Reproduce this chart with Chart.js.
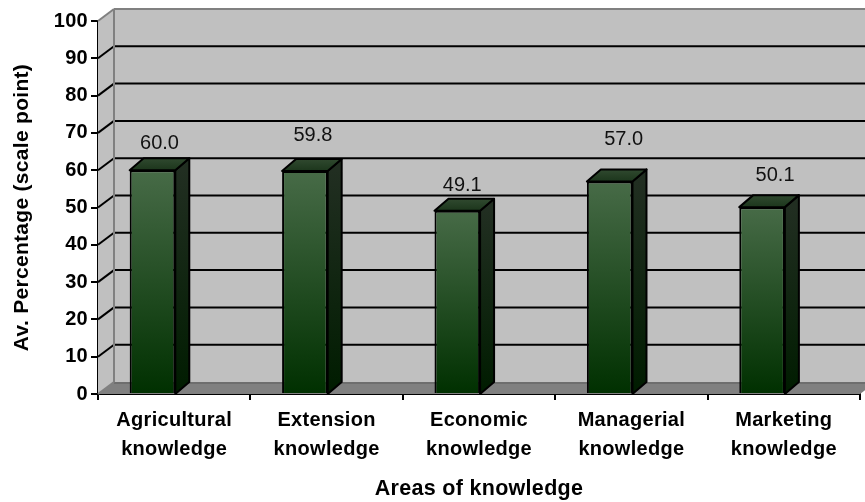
<!DOCTYPE html>
<html>
<head>
<meta charset="utf-8">
<script src="https://cdn.jsdelivr.net/npm/chart.js@4/dist/chart.umd.js"></script>
<style>
  html, body { margin: 0; padding: 0; background: #fff; }
  #wrap { width: 865px; height: 502px; }
</style>
</head>
<body>
<div id="wrap"><canvas id="chart" width="865" height="502"></canvas></div>
<script>
const categories = [
  ["Agricultural", "knowledge"],
  ["Extension", "knowledge"],
  ["Economic", "knowledge"],
  ["Managerial", "knowledge"],
  ["Marketing", "knowledge"],
];
const values = [60.0, 59.8, 49.1, 57.0, 50.1];
const valueLabels = ["60.0", "59.8", "49.1", "57.0", "50.1"];
const emptySlot = [null, null, null, null, null];

// hand placed in the original, so each label gets its own nudge (px from bar top)
const labelNudgeX = [7, 8, 5, 14, 13];
const labelNudgeY = [-27, -35, -25, -42, -32];

const FONT = '"Liberation Sans", Arial, sans-serif';
const DEPTH_X = 14;
const DEPTH_Y = 12;
const WALL_X = 16;
const WALL_Y = 12;

function line(ctx, x1, y1, x2, y2, color, width) {
  ctx.strokeStyle = color;
  ctx.lineWidth = width;
  ctx.beginPath();
  ctx.moveTo(x1, y1);
  ctx.lineTo(x2, y2);
  ctx.stroke();
}

function poly(ctx, pts, fill, stroke, width) {
  ctx.beginPath();
  pts.forEach((p, i) => (i ? ctx.lineTo(p[0], p[1]) : ctx.moveTo(p[0], p[1])));
  ctx.closePath();
  ctx.fillStyle = fill;
  ctx.fill();
  if (stroke) {
    ctx.strokeStyle = stroke;
    ctx.lineWidth = width;
    ctx.lineJoin = "round";
    ctx.stroke();
  }
}

function vGradient(ctx, y1, y2, top, bottom) {
  const g = ctx.createLinearGradient(0, y1, 0, y2);
  g.addColorStop(0, top);
  g.addColorStop(1, bottom);
  return g;
}

// back wall, side wall, floor and the gridlines that run along them
const wallsPlugin = {
  id: "walls",
  beforeDraw(chart) {
    chart.ctx.letterSpacing = "0.3px";
  },
  beforeDatasetsDraw(chart) {
    const { ctx, chartArea: a, scales: { y } } = chart;
    const top = y.getPixelForValue(100);
    const base = y.getPixelForValue(0);
    const backL = a.left + WALL_X;
    ctx.save();
    poly(ctx, [[backL, top - WALL_Y], [chart.width, top - WALL_Y], [chart.width, base - WALL_Y], [backL, base - WALL_Y]], "#c0c0c0");
    poly(ctx, [[a.left, top], [backL, top - WALL_Y], [backL, base - WALL_Y], [a.left, base]], "#c0c0c0");
    poly(ctx, [[a.left, base], [backL, base - WALL_Y], [a.right + WALL_X, base - WALL_Y], [a.right, base]], "#808080");
    line(ctx, backL, base - WALL_Y + 1, chart.width, base - WALL_Y + 1, "#6e6e6e", 2);
    y.ticks.forEach((t) => {
      const py = y.getPixelForValue(t.value);
      const edge = t.value === 0 || t.value === 100;
      line(ctx, a.left, py, backL, py - WALL_Y, edge ? "#808080" : "#000", 2);
      if (t.value !== 0) line(ctx, backL, py - WALL_Y, chart.width, py - WALL_Y, edge ? "#808080" : "#000", 2);
    });
    line(ctx, backL, top - WALL_Y, backL, base - WALL_Y, "#808080", 2);
    ctx.restore();
  },
  afterDatasetsDraw(chart) {
    const { ctx, scales: { y } } = chart;
    const base = y.getPixelForValue(0);
    ctx.save();
    chart.getDatasetMeta(0).data.forEach((bar, i) => {
      const l = bar.x - bar.width / 2;
      const r = bar.x + bar.width / 2;
      const t = bar.y;
      poly(ctx, [[r, t], [r + DEPTH_X, t - DEPTH_Y], [r + DEPTH_X, base - DEPTH_Y], [r, base]],
        vGradient(ctx, t, base, "#212e21", "#001c00"), "#000", 2);
      poly(ctx, [[l, t], [l + DEPTH_X, t - DEPTH_Y], [r + DEPTH_X, t - DEPTH_Y], [r, t]],
        vGradient(ctx, t - DEPTH_Y, t, "#30492f", "#1c361c"), "#000", 2);
      ctx.fillStyle = "#111";
      ctx.font = "20px " + FONT;
      ctx.letterSpacing = "0px";
      ctx.textAlign = "center";
      ctx.textBaseline = "middle";
      ctx.fillText(valueLabels[i], bar.x + labelNudgeX[i], t + labelNudgeY[i]);
    });
    ctx.restore();
  },
};

new Chart(document.getElementById("chart"), {
  type: "bar",
  data: {
    labels: categories,
    datasets: [
      {
        data: values,
        categoryPercentage: 0.57,
        barPercentage: 1.05,
        borderColor: "#000",
        borderWidth: 2,
        backgroundColor(c) {
          const { ctx, scales: { y } } = c.chart;
          const t = y.getPixelForValue(values[c.dataIndex]);
          const b = y.getPixelForValue(0);
          if (!Number.isFinite(t) || !Number.isFinite(b)) return "#476b47";
          return vGradient(ctx, t, b, "#476b47", "#003000");
        },
      },
      // keeps the slot the 3d depth sits in, so the front face lands left of the category centre
      { data: emptySlot, categoryPercentage: 0.57, barPercentage: 1 },
    ],
  },
  options: {
    responsive: false,
    animation: false,
    layout: { padding: { top: 21, right: 5, left: 0, bottom: 0 } },
    plugins: { legend: { display: false }, tooltip: { enabled: false } },
    scales: {
      x: {
        afterFit(s) { s.height = 108; },
        grid: { drawOnChartArea: false, color: "#000", lineWidth: 2, tickLength: 6 },
        border: { color: "#000", width: 2 },
        ticks: {
          color: "#000",
          maxRotation: 0,
          padding: 6,
          font: { family: FONT, size: 20, weight: "bold", lineHeight: 1.45 },
        },
        title: {
          display: true,
          text: "Areas of knowledge",
          color: "#000",
          padding: { top: 0, bottom: 0 },
          font: { family: FONT, size: 21.5, weight: "bold" },
        },
      },
      y: {
        min: 0,
        max: 100,
        afterFit(s) { s.width = 98; },
        grid: { drawOnChartArea: false, color: "#000", lineWidth: 2, tickLength: 7 },
        border: { color: "#000", width: 2 },
        ticks: {
          stepSize: 10,
          color: "#000",
          padding: 3,
          font: { family: FONT, size: 20, weight: "bold" },
        },
        title: {
          display: true,
          text: "Av. Percentage (scale point)",
          color: "#000",
          padding: { top: 10, bottom: 0 },
          font: { family: FONT, size: 21, weight: "bold" },
        },
      },
    },
  },
  plugins: [wallsPlugin],
});
</script>
</body>
</html>
